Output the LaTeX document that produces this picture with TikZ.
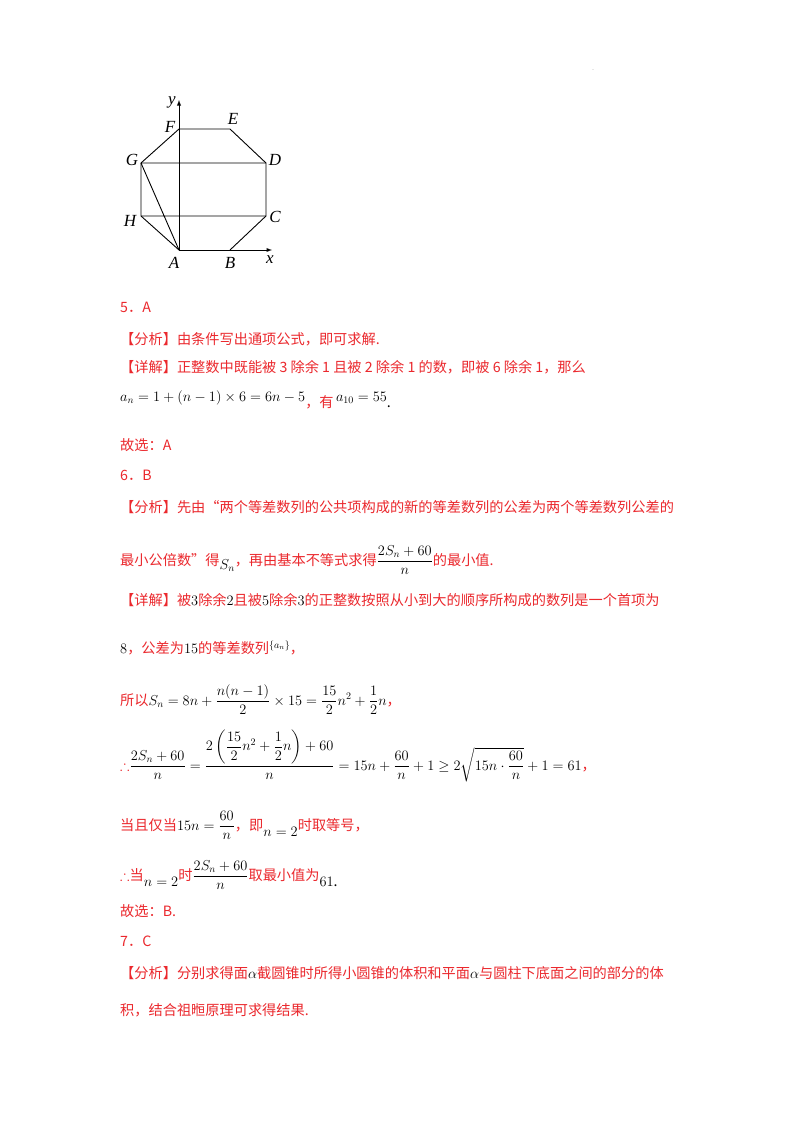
\documentclass[tikz,border=0pt]{standalone}
\usepackage{fontspec}
\usepackage{amsmath,amssymb}
\newfontfamily\cjk{Noto Sans CJK SC}
\newfontfamily\tms{Liberation Serif}
\definecolor{rd}{RGB}{235,40,45}
\newcommand{\mth}[1]{{\color{black}$#1$}}
\begin{document}
\begin{tikzpicture}[x=1pt,y=-1pt,
  lbl/.style={font=\tms\itshape\fontsize{17}{17}\selectfont},
  ln/.style={line width=0.9pt},
  tx/.style={anchor=base west,inner sep=0pt,text=rd,font=\cjk\fontsize{14.2}{16}\selectfont}]
\fill[white] (0,0) rectangle (800,1132);
\node[inner sep=0pt,font=\tiny] (dot) at (593,70) {.};
% figure
\coordinate (F) at (179,129); \coordinate (E) at (230,129);
\coordinate (D) at (266,163); \coordinate (C) at (266,216);
\coordinate (B) at (230,250); \coordinate (A) at (179,250);
\coordinate (H) at (141,216); \coordinate (G) at (141,163);
\coordinate (yt) at (179,100); \coordinate (xt) at (272,250);
\draw[ln,-latex] (A) -- (yt);
\draw[ln,-latex] (A) -- (xt);
\draw[ln] (F)--(E)--(D)--(C)--(B) (A)--(H)--(G)--(F);
\draw[ln] (G)--(D) (H)--(C) (G)--(A);
\node[lbl] (ly) at (172,102) {y};
\node[lbl] (lF) at (170,127) {F};
\node[lbl] (lE) at (233,119) {E};
\node[lbl] (lG) at (132,160) {G};
\node[lbl] (lD) at (275,160) {D};
\node[lbl] (lH) at (130,221) {H};
\node[lbl] (lC) at (275,217) {C};
\node[lbl] (lA) at (174,263) {A};
\node[lbl] (lB) at (230,263) {B};
\node[lbl] (lx) at (270,260) {x};
% text
\node[tx] (t1) at (120,312) {5．A};
\node[tx] (t2) at (120,344) {【分析】由条件写出通项公式，即可求解.};
\node[tx] (t3) at (120,372) {【详解】正整数中既能被 3 除余 1 且被 2 除余 1 的数，即被 6 除余 1，那么};
\node[tx] (t4) at (120,401) {\mth{a_n=1+\left(n-1\right)\times 6=6n-5}\raisebox{-6pt}{，有}\,\mth{a_{10}=55}\raisebox{-6pt}{\color{black}.}};
\node[tx] (t5) at (120,450) {故选：A};
\node[tx] (t6) at (120,480) {6．B};
\node[tx] (t7) at (120,512) {【分析】先由“两个等差数列的公共项构成的新的等差数列的公差为两个等差数列公差的};
\node[tx] (t8) at (120,565) {最小公倍数”得\raisebox{-4pt}{\mth{S_n}}，再由基本不等式求得\mth{\dfrac{2S_n+60}{n}}的最小值.};
\node[tx] (t9) at (120,605) {【详解】被\mth{3}除余\mth{2}且被\mth{5}除余\mth{3}的正整数按照从小到大的顺序所构成的数列是一个首项为};
\node[tx] (t10) at (120,653) {\mth{8}，公差为\mth{15}的等差数列\raisebox{5pt}{\mth{\scriptstyle\{a_n\}}}，};
\node[tx] (t11) at (120,705) {所以\mth{S_n=8n+\dfrac{n(n-1)}{2}\times15=\dfrac{15}{2}n^2+\dfrac12 n}，};
\node[tx] (t12) at (120,770) {$\therefore$\mth{\dfrac{2S_n+60}{n}=\dfrac{2\left(\dfrac{15}{2}n^2+\dfrac12 n\right)+60}{n}=15n+\dfrac{60}{n}+1\geq 2\sqrt{15n\cdot\dfrac{60}{n}}+1=61}，};
\node[tx] (t13) at (120,830) {当且仅当\mth{15n=\dfrac{60}{n}}，即\raisebox{-6pt}{\mth{n=2}}时取等号，};
\node[tx] (t14) at (120,880) {$\therefore$当\raisebox{-6pt}{\mth{n=2}}时\mth{\dfrac{2S_n+60}{n}}取最小值为\raisebox{-6pt}{\mth{61}}\raisebox{-6pt}{\color{black}.}};
\node[tx] (t15) at (120,916) {故选：B.};
\node[tx] (t16) at (120,946) {7．C};
\node[tx] (t17) at (120,978) {【分析】分别求得面\mth{\alpha}截圆锥时所得小圆锥的体积和平面\mth{\alpha}与圆柱下底面之间的部分的体};
\node[tx] (t18) at (120,1015) {积，结合祖暅原理可求得结果.};
\end{tikzpicture}
\end{document}
